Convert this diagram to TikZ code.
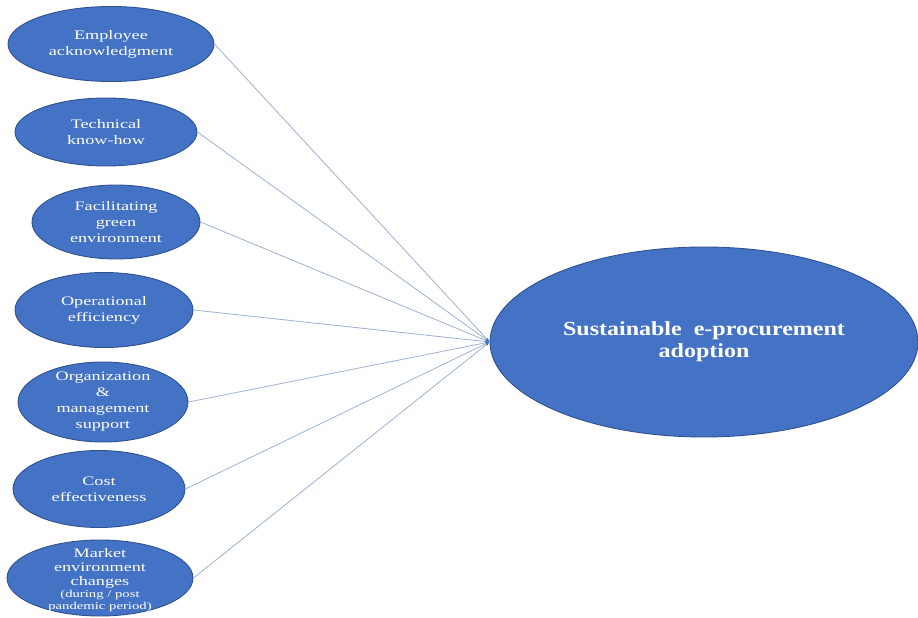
\documentclass[tikz,border=0pt]{standalone}
\usepackage{fontspec}
\setmainfont{Liberation Serif}[FakeStretch=1.4]
\newfontfamily\adoptfont{Liberation Serif}[FakeStretch=1.2]
\usepackage{xcolor}
\usetikzlibrary{arrows.meta,shapes.geometric}

\definecolor{ovalblue}{HTML}{4472C4}
\definecolor{ovaledge}{HTML}{2F528F}
\definecolor{linkgray}{HTML}{9EB0D6}

\begin{document}
\begin{tikzpicture}[
  x=1pt,y=-1pt,
  factor/.style={ellipse,draw=ovaledge,fill=ovalblue,line width=0.9pt,inner sep=0pt},
  factortext/.style={align=center,text=white,inner sep=0pt,font=\fontsize{13}{16}\selectfont},
  link/.style={draw=linkgray,line width=0.8pt,-{Latex[length=4pt,width=3pt,color=ovalblue]}}
]
  \useasboundingbox (0,0) rectangle (918,618);
  % factor ovals
  \node[factor,minimum width=206,minimum height=75] (f1) at (111,44) {};
  \node[factor,minimum width=182,minimum height=68] (f2) at (106,132) {};
  \node[factor,minimum width=168,minimum height=74] (f3) at (116,222) {};
  \node[factor,minimum width=178,minimum height=75] (f4) at (104,310) {};
  \node[factor,minimum width=170,minimum height=80] (f5) at (103,402) {};
  \node[factor,minimum width=172,minimum height=77] (f6) at (99,489) {};
  \node[factor,minimum width=186,minimum height=76] (f7) at (100,578) {};
  % their texts
  \node[factortext] (t1) at (f1) {Employee\\acknowledgment};
  \node[factortext] (t2) at (f2) {Technical\\know-how};
  \node[factortext] (t3) at (f3) {Facilitating\\green\\environment};
  \node[factortext] (t4) at (f4) {Operational\\efficiency};
  \node[factortext] (t5) at (f5) {Organization\\\&\\management\\support};
  \node[factortext] (t6) at (f6) {Cost\\effectiveness};
  \node[factortext] (t7) at ([yshift=-2pt]f7.center)
    {Market\\[-2pt]environment\\[-2pt]changes\\[-4pt]
     {\fontsize{10.5}{13}\selectfont (during / post}\\[-4pt]
     {\fontsize{10.5}{13}\selectfont pandemic period)}};
  % outcome
  \node[factor,minimum width=428,minimum height=190] (adopt) at (704,342) {};
  \node[factortext,font=\adoptfont\fontsize{20}{22}\selectfont\bfseries]
    (tadopt) at (adopt) {Sustainable\ \ e-procurement\\adoption};
  \foreach \f in {f1,f2,f3,f4,f5,f6,f7}
    \draw[link] (\f.east) -- (adopt.west);
\end{tikzpicture}
\end{document}
